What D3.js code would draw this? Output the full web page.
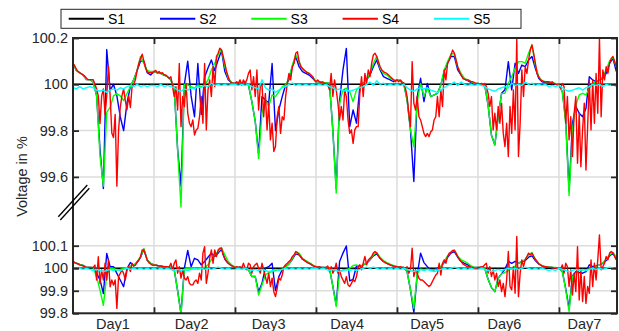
<!DOCTYPE html>
<html>
<head>
<meta charset="utf-8">
<script src="https://cdn.jsdelivr.net/npm/d3@7"></script>
<style>
  body { margin: 0; background: #fff; }
  svg { display: block; }
</style>
</head>
<body>
<svg id="chart" width="619" height="331"></svg>
<script>
// ---- categories / labels ----
const seriesNames = ["S1", "S2", "S3", "S4", "S5"];
const seriesColors = ["#000000", "#0000ff", "#00ff00", "#ff0000", "#00ffff"];
const dayLabels = ["Day1", "Day2", "Day3", "Day4", "Day5", "Day6", "Day7"];
const dayLabelHours = [11.7, 35.0, 57.8, 81.1, 104.8, 127.7, 151.4];
const dayBoundaryHours = [24, 48, 72, 96, 120, 144];
const topTicks = [99.6, 99.8, 100, 100.2];
const bottomTicks = [99.8, 99.9, 100, 100.1];

// S1 reference level (flat)
const s1Hours = [0, 161.2];
const s1Level = [100, 100];

// ---- upper section: hourly S2 / S3 / S5, half-hourly S4 (one array per day) ----
const topS2 = [
  [100.09,100.06,100.05,100.04,100.02,100.02,100.01,99.95,99.72,99.55,100.15,99.975,100.0,99.95,99.86,99.80,99.92,99.99,100.02,100.06,100.10,100.10,100.05,100.04],
  [100.055,100.05,100.047,100.04,100.033,100.019,99.983,99.72,99.56,100.0,100.10,99.95,99.86,100.09,99.87,100.03,100.07,100.105,100.06,100.105,100.145,100.055,100.02,100.007],
  [100.004,100.007,100.004,100.007,99.997,99.925,99.84,99.70,99.947,99.932,99.92,100.09,99.80,99.89,99.947,99.997,100.019,100.076,100.12,100.076,100.055,100.047,100.04,100.026],
  [100.011,100.011,100.007,100.007,100.004,99.80,99.55,99.93,100.062,100.155,99.817,99.889,99.832,99.99,100.004,100.019,100.04,100.076,100.105,100.062,100.033,100.026,100.019,100.011],
  [100.019,100.016,100.004,99.932,99.803,99.58,99.947,100.026,99.925,100.004,99.947,99.954,99.961,99.997,100.055,100.091,100.12,100.12,100.062,100.04,100.022,100.016,100.007,100.001],
  [100.004,100.001,99.997,99.91,99.78,99.738,99.86,99.961,99.976,100.098,99.976,100.091,100.047,100.083,100.076,100.105,100.12,100.069,100.026,100.011,100.007,100.007,100.004,100.001],
  [99.997,99.968,99.846,99.54,99.832,99.904,99.875,99.86,99.896,100.033,100.019,100.011,100.019,100.026,100.047,100.091,100.112,100.055]
];
const topS3 = [
  [100.09,100.06,100.05,100.04,100.02,100.02,100.01,99.95,99.69,99.56,99.88,99.90,99.95,99.96,99.95,99.93,99.96,99.99,100.02,100.06,100.12,100.09,100.06,100.055],
  [100.055,100.05,100.047,100.04,100.033,100.019,99.983,99.716,99.47,100.0,99.997,99.99,99.983,99.997,99.99,99.997,100.019,100.062,100.091,100.127,100.15,100.076,100.026,100.007],
  [100.004,100.007,100.004,100.007,99.997,99.925,99.84,99.68,99.875,99.932,99.904,99.954,99.947,99.968,99.99,99.997,100.026,100.083,100.127,100.098,100.065,100.055,100.047,100.033],
  [100.011,100.011,100.007,100.007,100.004,99.80,99.53,99.918,99.976,99.983,99.968,99.925,99.976,99.99,100.004,100.019,100.047,100.09,100.122,100.069,100.047,100.04,100.026,100.019],
  [100.019,100.016,100.004,99.932,99.803,99.73,99.925,100.004,99.947,99.983,99.947,99.954,99.961,99.997,100.062,100.098,100.13,100.134,100.076,100.047,100.026,100.019,100.011,100.004],
  [100.004,100.001,99.997,99.91,99.78,99.738,99.86,99.961,99.961,100.004,100.033,100.069,100.098,100.098,100.091,100.134,100.17,100.083,100.033,100.016,100.011,100.011,100.007,100.004],
  [99.997,99.968,99.832,99.52,99.803,99.91,99.954,99.961,99.954,99.983,100.004,100.011,100.019,100.033,100.062,100.102,100.117,100.076]
];
const topS4 = [
  [100.09,100.08,100.065,100.055,100.05,100.045,100.04,100.035,100.026,100.02,100.02,100.02,100.02,100.0,99.98,99.95,99.83,99.95,99.98,99.87,99.95,100.08,99.95,99.79,99.77,99.87,99.56,99.80,99.90,99.95,99.98,99.93,99.89,99.95,99.90,99.99,100.0,100.02,100.06,100.09,100.11,100.13,100.10,100.07,100.055,100.05,100.05,100.05],
  [100.055,100.06,100.05,100.055,100.047,100.05,100.04,100.04,100.033,100.026,100.033,99.99,99.947,99.99,99.889,100.09,99.817,99.947,99.904,100.004,99.875,99.832,99.817,99.846,99.781,99.803,99.81,99.86,99.947,99.832,100.09,99.803,99.976,100.019,99.947,100.076,99.99,100.12,100.134,100.156,100.148,100.12,100.09,100.055,100.033,100.012,100.007,100.004],
  [100.004,100.011,100.004,100.019,99.997,100.019,100.004,100.019,100.047,100.062,99.976,100.033,99.947,100.062,99.889,99.99,100.004,99.86,99.961,99.803,99.918,99.76,99.832,99.71,99.731,99.86,99.904,99.788,99.86,99.846,99.947,100.004,100.047,100.019,100.076,100.091,100.134,100.141,100.098,100.076,100.069,100.062,100.055,100.05,100.047,100.04,100.033,100.019],
  [100.011,100.019,100.011,100.007,100.011,100.004,100.004,99.997,99.976,100.047,99.947,100.019,99.976,99.918,99.846,99.904,99.846,99.976,99.947,99.846,99.788,99.803,99.745,99.803,99.817,99.817,99.961,100.033,99.947,100.047,100.004,100.062,100.033,100.091,100.127,100.134,100.12,100.098,100.076,100.062,100.055,100.05,100.047,100.04,100.033,100.026,100.019,100.011],
  [100.019,100.011,100.019,100.004,100.007,99.983,99.947,99.875,99.817,100.098,99.918,99.889,99.947,99.86,99.846,99.817,99.788,99.774,99.788,99.774,99.795,99.803,99.846,99.86,99.947,99.86,99.976,99.904,100.062,100.019,100.091,100.105,100.127,100.148,100.134,100.105,100.076,100.055,100.04,100.026,100.022,100.019,100.019,100.016,100.011,100.011,100.007,100.004],
  [100.004,100.001,100.004,99.997,100.004,99.99,99.961,99.904,99.947,99.803,99.875,99.803,99.904,99.832,99.918,99.788,99.731,99.832,99.688,99.904,99.788,99.976,99.803,100.199,99.688,99.832,100.062,99.947,100.076,100.047,100.105,100.148,100.17,100.134,100.091,100.047,100.033,100.019,100.016,100.011,100.011,100.011,100.011,100.007,100.011,100.004,100.001,99.997],
  [99.997,99.983,100.004,99.99,99.832,99.947,99.76,99.86,99.688,99.875,99.947,99.659,99.875,99.644,99.803,99.918,99.63,99.817,100.019,99.803,100.019,99.832,100.047,99.875,100.199,99.86,100.062,100.019,100.076,100.047,100.091,100.112,100.12,100.098,100.076]
];
const topS5 = [
  [99.985,99.98,99.99,99.98,99.985,99.99,99.985,99.975,99.97,99.975,99.965,99.975,99.98,99.975,99.985,99.98,99.99,99.995,99.99,100.0,99.99,99.995,99.99,99.995],
  [99.995,99.99,100.0,99.99,99.995,99.99,99.985,99.975,99.97,99.98,99.975,99.985,99.98,99.99,99.985,99.995,99.99,100.005,99.995,100.0,99.995,100.0,99.995,100.0],
  [100.0,99.995,100.0,99.995,100.0,99.99,99.985,99.98,100.02,99.985,99.975,99.98,99.965,99.975,99.985,99.99,100.0,100.005,99.995,100.0,99.995,100.0,99.995,100.0],
  [99.995,100.0,99.995,100.0,99.99,99.985,99.975,99.98,99.97,99.975,99.97,99.975,99.98,99.985,99.99,100.0,100.01,99.995,100.015,100.0,100.005,99.995,100.0,99.995],
  [100.0,99.995,100.0,99.985,99.975,99.97,99.98,99.985,99.98,99.985,99.975,99.97,99.965,99.975,99.985,99.995,100.0,100.01,99.995,100.01,100.0,99.995,100.0,99.995],
  [100.0,99.995,99.99,99.98,99.975,99.97,99.98,99.985,99.99,99.985,100.005,99.995,100.0,99.995,100.01,100.0,100.005,99.995,100.0,99.995,100.0,99.99,99.995,99.99],
  [99.995,99.985,99.975,99.97,99.975,99.98,99.985,99.975,99.985,99.99,100.0,99.995,100.0,99.99,100.0,99.995,100.0,99.99]
];

// ---- lower section ----
const bottomS2 = [
  [100.029,100.022,100.017,100.013,100.004,100.004,100.002,99.977,99.948,99.888,100.066,100.007,100.007,99.977,99.948,99.918,99.999,100.025,100.01,100.025,100.048,100.084,100.036,100.022],
  [100.015,100.012,100.01,100.007,100.007,100.004,99.993,99.901,99.8,100.0,100.079,100.007,100.044,100.037,100.015,100.03,100.049,100.067,100.052,100.067,100.084,100.04,100.022,100.012],
  [100.004,100.003,100.003,100.0,99.993,99.963,99.963,99.896,99.933,100.0,100.007,100.022,99.901,99.963,99.993,100.007,100.019,100.04,100.064,100.059,100.04,100.03,100.022,100.012],
  [100.007,100.004,100.003,100.003,100.0,99.919,99.837,100.03,100.067,100.099,99.944,99.951,100.01,100.007,100.015,100.022,100.037,100.055,100.064,100.044,100.03,100.022,100.015,100.01],
  [100.007,100.004,100.003,99.985,99.904,99.803,99.97,100.067,100.025,100.007,99.993,99.993,100.0,100.007,100.025,100.049,100.067,100.074,100.049,100.03,100.022,100.015,100.007,100.003],
  [100.004,100.003,100.0,99.951,99.914,99.896,99.956,99.975,99.996,100.03,100.022,100.03,100.022,100.03,100.034,100.049,100.055,100.034,100.019,100.01,100.006,100.004,100.003,100.001],
  [100.0,99.985,99.911,99.822,99.966,99.985,99.981,99.978,99.985,100.015,100.007,100.01,100.015,100.022,100.034,100.055,100.067,100.04]
];
const bottomS3 = [
  [100.029,100.022,100.017,100.013,100.004,100.004,100.002,99.962,99.903,99.835,99.97,99.999,99.999,99.992,99.995,99.999,100.004,100.01,100.014,100.029,100.051,100.088,100.036,100.022],
  [100.015,100.012,100.01,100.007,100.007,100.004,99.993,99.901,99.793,99.996,100.0,100.0,99.996,100.0,100.0,100.003,100.015,100.037,100.059,100.074,100.092,100.059,100.03,100.015],
  [100.004,100.003,100.003,100.0,99.993,99.963,99.963,99.881,99.926,99.97,99.981,99.985,99.99,99.993,99.996,100.004,100.019,100.044,100.07,100.067,100.044,100.034,100.025,100.015],
  [100.007,100.004,100.003,100.003,100.0,99.919,99.83,99.981,99.993,99.993,100.0,100.012,100.015,100.004,100.015,100.025,100.04,100.059,100.07,100.049,100.034,100.025,100.018,100.012],
  [100.007,100.004,100.003,99.985,99.904,99.822,99.978,99.996,99.993,99.996,99.993,99.993,99.996,100.007,100.03,100.055,100.074,100.081,100.055,100.037,100.03,100.022,100.01,100.004],
  [100.004,100.003,100.0,99.951,99.914,99.896,99.956,99.975,99.981,99.99,100.0,100.01,100.022,100.03,100.04,100.059,100.07,100.04,100.022,100.012,100.007,100.006,100.004,100.003],
  [100.0,99.985,99.904,99.808,99.963,99.978,99.99,99.993,99.993,99.997,100.0,100.007,100.015,100.025,100.04,100.059,100.07,100.049]
];
const bottomS4 = [
  [100.029,100.025,100.022,100.019,100.014,100.013,100.01,100.007,100.004,100.004,100.004,100.004,100.004,100.014,99.948,100.051,99.933,99.992,99.948,100.022,99.948,100.036,99.918,99.948,99.925,99.948,99.822,99.962,99.977,99.992,99.977,99.948,99.992,100.007,99.985,100.022,100.01,100.014,100.029,100.036,100.051,100.081,100.081,100.059,100.036,100.025,100.019,100.013],
  [100.015,100.013,100.012,100.01,100.01,100.007,100.007,100.007,100.007,100.004,100.022,99.993,100.022,100.037,99.978,100.007,99.956,99.993,99.956,99.948,99.963,99.933,99.926,99.926,99.941,99.948,99.933,99.978,99.948,100.067,100.096,99.933,99.978,100.044,100.081,100.022,100.081,100.052,100.081,100.089,100.089,100.059,100.044,100.03,100.022,100.015,100.012,100.007],
  [100.004,100.007,100.003,100.007,100.0,100.022,100.0,99.993,100.022,100.015,99.978,100.007,100.015,100.022,100.0,99.978,100.022,99.993,99.963,99.933,99.978,99.919,99.956,99.896,99.874,99.911,99.956,99.948,99.97,100.007,100.015,100.022,100.03,100.037,100.052,100.059,100.074,100.07,100.059,100.052,100.04,100.037,100.03,100.025,100.022,100.018,100.013,100.007],
  [100.007,100.004,100.007,100.003,100.004,100.0,100.003,100.01,99.985,100.007,99.978,99.993,100.022,99.978,99.993,99.963,99.948,99.933,99.963,99.926,99.919,99.933,99.948,99.941,99.963,100.007,100.015,99.993,100.022,100.052,100.015,100.037,100.044,100.052,100.067,100.074,100.067,100.055,100.044,100.037,100.03,100.025,100.022,100.018,100.015,100.012,100.009,100.007],
  [100.007,100.004,100.007,100.003,100.004,100.0,100.007,99.978,99.993,100.089,99.963,99.993,99.978,99.956,99.948,99.948,99.941,99.933,99.926,99.919,99.926,99.941,99.956,99.97,99.978,100.022,99.97,100.022,100.037,100.022,100.052,100.067,100.07,100.079,100.079,100.067,100.052,100.04,100.03,100.019,100.015,100.01,100.007,100.007,100.004,100.003,100.0,100.0],
  [100.003,100.004,100.007,100.007,100.015,100.022,99.978,100.007,99.963,99.993,99.948,99.978,99.919,99.948,99.896,99.933,99.874,99.948,100.074,99.919,99.904,100.007,99.889,100.141,99.874,99.978,100.037,100.007,100.037,100.052,100.067,100.059,100.067,100.052,100.04,100.03,100.019,100.015,100.01,100.007,100.007,100.006,100.004,100.004,100.003,100.001,100.0,100.0],
  [100.0,99.996,100.015,99.978,100.022,100.007,99.919,99.993,99.881,99.978,99.896,100.096,99.859,99.993,99.852,99.963,99.844,99.919,99.889,100.037,99.919,100.022,99.948,100.037,100.148,99.993,100.007,100.022,100.052,100.037,100.067,100.074,100.067,100.052,100.037]
];
const bottomS5 = [
  [100.0,99.995,100.0,99.995,100.0,99.995,99.99,99.995,99.99,99.985,99.99,99.995,99.99,99.995,99.99,99.995,100.0,99.995,100.0,99.995,100.0,99.995,100.0,99.995],
  [100.0,99.995,100.0,99.995,100.0,99.995,99.99,99.995,99.99,99.995,99.99,99.995,100.0,99.995,100.0,99.995,100.0,99.995,100.0,100.005,100.0,99.995,100.0,99.995],
  [99.995,100.0,99.995,100.0,99.995,99.99,99.995,99.99,99.995,99.99,99.985,99.99,99.995,99.99,99.995,100.0,99.995,100.0,99.995,100.0,99.995,100.0,99.995,100.0],
  [100.0,99.995,100.0,99.995,99.99,99.995,99.99,99.985,99.99,99.995,99.99,99.995,99.99,99.995,100.0,100.005,100.0,100.005,100.0,99.995,100.0,99.995,100.0,99.995],
  [100.0,99.995,100.0,99.995,99.99,99.985,99.99,99.995,99.99,99.995,99.99,99.985,99.99,99.995,100.0,99.995,100.0,100.005,100.0,99.995,100.0,99.995,100.0,99.995],
  [99.995,100.0,99.995,99.99,99.985,99.99,99.995,99.99,99.995,100.0,99.995,100.0,99.995,100.0,100.005,100.0,99.995,100.0,99.995,100.0,99.995,99.99,99.995,99.99],
  [100.0,99.995,99.99,99.985,99.99,99.995,99.99,99.995,99.99,99.995,100.0,99.995,100.0,99.995,100.0,100.005,100.0,99.995]
];

// ---- layout ----
const W = 619, H = 331;
const plot = { left: 73, right: 617, top: 38, bottom: 313.3, split: 214 };
const fontFamily = '"Liberation Sans", Arial, Helvetica, sans-serif';
const axisColor = "#262626";
const gridColor = "#dcdcdc";

const svg = d3.select("#chart");
svg.append("rect").attr("width", W).attr("height", H).attr("fill", "#fff");

const x = d3.scaleLinear().domain([0, 161.2]).range([plot.left, plot.right]);
const yTop = d3.scaleLinear().domain([99.6, 100.2]).range([176.9, plot.top]);
const yBottom = d3.scaleLinear().domain([99.8, 100.1]).range([plot.bottom, 245.7]);

// turn per-day arrays into [hour, value] points
function toPoints(days, step) {
  return days.flatMap((vals, d) => vals.map((v, i) => [d * 24 + i * step, v]));
}
const s1Points = s1Hours.map((h, i) => [h, s1Level[i]]);

const sections = [
  {
    id: "upper", y: yTop, ticks: topTicks, clipTop: plot.top, clipBottom: plot.split,
    lines: [s1Points, toPoints(topS2, 1), toPoints(topS3, 1), toPoints(topS4, 0.5), toPoints(topS5, 1)]
  },
  {
    id: "lower", y: yBottom, ticks: bottomTicks, clipTop: plot.split, clipBottom: plot.bottom,
    lines: [s1Points, toPoints(bottomS2, 1), toPoints(bottomS3, 1), toPoints(bottomS4, 0.5), toPoints(bottomS5, 1)]
  }
];

const defs = svg.append("defs");
sections.forEach(s => {
  defs.append("clipPath").attr("id", "clip-" + s.id)
    .append("rect")
    .attr("x", plot.left).attr("y", s.clipTop)
    .attr("width", plot.right - plot.left).attr("height", s.clipBottom - s.clipTop);
});

// vertical grid at day boundaries, spanning both sections
svg.append("g").selectAll("line").data(dayBoundaryHours).join("line")
  .attr("x1", d => x(d)).attr("x2", d => x(d))
  .attr("y1", plot.top).attr("y2", plot.bottom)
  .attr("stroke", gridColor).attr("stroke-width", 1.5);

// horizontal grid per section
sections.forEach(s => {
  svg.append("g").selectAll("line").data(s.ticks).join("line")
    .attr("x1", plot.left).attr("x2", plot.right)
    .attr("y1", d => s.y(d)).attr("y2", d => s.y(d))
    .attr("stroke", gridColor).attr("stroke-width", 1.5);
});

// data lines
sections.forEach(s => {
  const line = d3.line().x(d => x(d[0])).y(d => s.y(d[1]));
  const g = svg.append("g").attr("clip-path", `url(#clip-${s.id})`);
  s.lines.forEach((pts, i) => {
    g.append("path")
      .attr("d", line(pts))
      .attr("fill", "none")
      .attr("stroke", seriesColors[i])
      .attr("stroke-width", 1.4)
      .attr("stroke-linejoin", "round");
  });
});

// frame
svg.append("rect")
  .attr("x", plot.left).attr("y", plot.top)
  .attr("width", plot.right - plot.left).attr("height", plot.bottom - plot.top)
  .attr("fill", "none").attr("stroke", axisColor).attr("stroke-width", 2);

const fmt = v => String(+v.toFixed(1));

function styleAxis(g, size) {
  g.select(".domain").remove();
  g.selectAll(".tick line").attr("stroke", axisColor).attr("stroke-width", 1.8);
  g.selectAll(".tick text").attr("fill", axisColor)
    .attr("font-family", fontFamily).attr("font-size", size);
}

// y axes (ticks inward, mirrored on the right)
sections.forEach(s => {
  svg.append("g").attr("transform", `translate(${plot.left},0)`)
    .call(d3.axisLeft(s.y).tickValues(s.ticks).tickSize(-6).tickPadding(5).tickFormat(fmt))
    .call(g => styleAxis(g, 14.5));
  svg.append("g").attr("transform", `translate(${plot.right},0)`)
    .call(d3.axisRight(s.y).tickValues(s.ticks).tickSize(-6).tickFormat(""))
    .call(g => styleAxis(g, 14.5));
});

// x axes: boundary ticks top and bottom, day names below
svg.append("g").attr("transform", `translate(0,${plot.bottom})`)
  .call(d3.axisBottom(x).tickValues(dayBoundaryHours).tickSize(-6).tickFormat(""))
  .call(g => styleAxis(g, 14.5));
svg.append("g").attr("transform", `translate(0,${plot.top})`)
  .call(d3.axisTop(x).tickValues(dayBoundaryHours).tickSize(-6).tickFormat(""))
  .call(g => styleAxis(g, 14.5));
svg.append("g").attr("transform", `translate(0,${plot.bottom})`)
  .call(d3.axisBottom(x).tickValues(dayLabelHours).tickSize(0).tickPadding(5)
    .tickFormat((d, i) => dayLabels[i]))
  .call(g => styleAxis(g, 14.5));

// axis break marks
const breakMarks = [
  [[58.3, 216.7], [87.3, 185.0]],
  [[60.3, 220.0], [89.3, 188.3]]
];
svg.append("g").selectAll("line").data(breakMarks).join("line")
  .attr("x1", d => d[0][0]).attr("y1", d => d[0][1])
  .attr("x2", d => d[1][0]).attr("y2", d => d[1][1])
  .attr("stroke", "#000").attr("stroke-width", 1.3);

// y title
svg.append("text")
  .attr("transform", `translate(26.5,176.5) rotate(-90)`)
  .attr("text-anchor", "middle")
  .attr("font-family", fontFamily).attr("font-size", 14.5)
  .attr("fill", axisColor)
  .text("Voltage in %");

// legend
const legend = svg.append("g");
legend.append("rect")
  .attr("x", 61).attr("y", 9.3).attr("width", 460).attr("height", 19)
  .attr("fill", "#fff").attr("stroke", axisColor).attr("stroke-width", 1);
const item = legend.selectAll("g.item").data(seriesNames).join("g")
  .attr("class", "item")
  .attr("transform", (d, i) => `translate(${68.7 + i * 91.3},18.7)`);
item.append("line")
  .attr("x1", 0).attr("x2", 35.3).attr("y1", 0).attr("y2", 0)
  .attr("stroke", (d, i) => seriesColors[i]).attr("stroke-width", 2);
item.append("text")
  .attr("x", 39.3).attr("y", 5)
  .attr("font-family", fontFamily).attr("font-size", 14)
  .attr("fill", "#000")
  .text(d => d);
</script>
</body>
</html>
